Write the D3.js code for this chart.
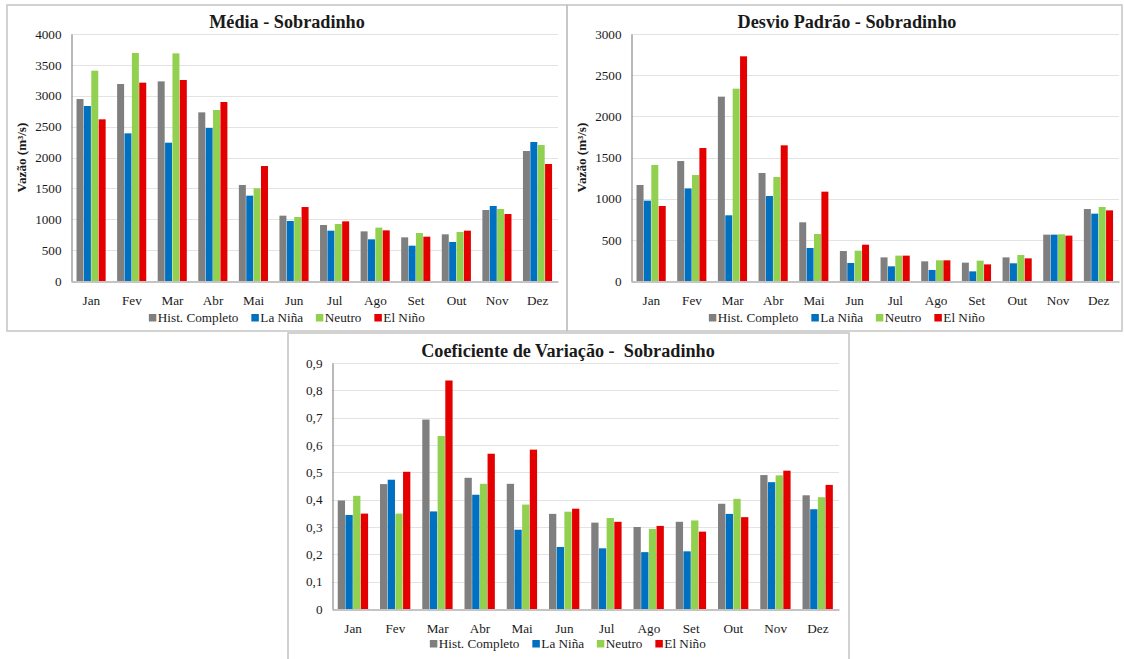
<!DOCTYPE html>
<html>
<head>
<meta charset="utf-8">
<script src="https://cdn.jsdelivr.net/npm/d3@7"></script>
<style>
  html, body { margin: 0; padding: 0; background: #fff; }
  svg { display: block; }
</style>
</head>
<body>
<svg id="chart" width="1124" height="659"></svg>
<script>
// Monthly streamflow statistics at Sobradinho, by ENSO phase
const months = ["Jan", "Fev", "Mar", "Abr", "Mai", "Jun", "Jul", "Ago", "Set", "Out", "Nov", "Dez"];
const seriesNames = ["Hist. Completo", "La Niña", "Neutro", "El Niño"];
const seriesColors = ["#7f7f7f", "#0070c0", "#92d050", "#e40000"];

// Média (m³/s)
const mediaHist   = [2947, 3190, 3233, 2731, 1555, 1058, 907, 804, 707, 756, 1150, 2105];
const mediaNina   = [2834, 2391, 2240, 2478, 1382,  972, 815, 675, 572, 632, 1215, 2251];
const mediaNeutro = [3406, 3692, 3687, 2769, 1501, 1036, 923, 864, 777, 794, 1166, 2202];
const mediaNino   = [2618, 3212, 3255, 2899, 1862, 1198, 966, 820, 718, 815, 1085, 1895];
const mediaTicks  = [0, 500, 1000, 1500, 2000, 2500, 3000, 3500, 4000];

// Desvio padrão (m³/s)
const desvioHist   = [1166, 1457, 2239, 1312,  713, 364, 287, 239, 223, 287, 563, 874];
const desvioNina   = [ 976, 1125,  798, 1032,  401, 219, 178, 134, 117, 215, 563, 818];
const desvioNeutro = [1409, 1287, 2336, 1263,  571, 368, 308, 251, 247, 316, 567, 899];
const desvioNino   = [ 911, 1615, 2729, 1648, 1085, 441, 308, 251, 202, 275, 551, 858];
const desvioTicks  = [0, 500, 1000, 1500, 2000, 2500, 3000];

// Coeficiente de variação
const cvHist   = [0.397, 0.457, 0.693, 0.480, 0.458, 0.348, 0.316, 0.300, 0.319, 0.385, 0.490, 0.416];
const cvNina   = [0.344, 0.473, 0.357, 0.418, 0.290, 0.227, 0.222, 0.208, 0.211, 0.348, 0.464, 0.365];
const cvNeutro = [0.414, 0.349, 0.633, 0.458, 0.382, 0.356, 0.333, 0.293, 0.324, 0.403, 0.489, 0.409];
const cvNino   = [0.349, 0.502, 0.836, 0.568, 0.583, 0.367, 0.319, 0.304, 0.283, 0.336, 0.506, 0.454];
const cvTicks  = [0, 0.1, 0.2, 0.3, 0.4, 0.5, 0.6, 0.7, 0.8, 0.9];

const ptBR = d3.formatLocale({ decimal: ",", thousands: ".", grouping: [3], currency: ["R$", ""] });
const fmtInt = ptBR.format("d");
const fmtDec = ptBR.format(".1f");

const FONT = "Liberation Serif";
const INK = "#1a1a1a";
const LABEL_SIZE = 13.2;

const svg = d3.select("#chart").attr("font-family", FONT);

// Panel frames
const frames = [
  { x0: 7, y0: 5, x1: 567, y1: 331 },
  { x0: 567, y0: 5, x1: 1122, y1: 331 },
  { x0: 288, y0: 333, x1: 849, y1: 661 }
];
frames.forEach(f => {
  svg.append("rect")
    .attr("x", f.x0).attr("y", f.y0)
    .attr("width", f.x1 - f.x0).attr("height", f.y1 - f.y0)
    .attr("fill", "none").attr("stroke", "#c4c4c4").attr("stroke-width", 1.5);
});

function drawPanel(cfg) {
  const g = svg.append("g");
  const series = cfg.values.map((vals, i) => ({ name: seriesNames[i], color: seriesColors[i], vals }));

  const x = d3.scaleBand().domain(months).range([cfg.left, cfg.right])
    .paddingInner(1.5 / 5.5).paddingOuter(0.75 / 5.5);
  const xs = d3.scaleBand().domain(d3.range(series.length)).range([0, x.bandwidth()]);
  const y = d3.scaleLinear().domain([0, d3.max(cfg.ticks)]).range([cfg.bottom, cfg.top]);

  // gridlines
  g.append("g").selectAll("line").data(cfg.ticks.filter(t => t > 0)).join("line")
    .attr("x1", cfg.left).attr("x2", cfg.right)
    .attr("y1", d => Math.round(y(d)) + 0.5).attr("y2", d => Math.round(y(d)) + 0.5)
    .attr("stroke", "#e3e3e3").attr("stroke-width", 1);

  // bars
  const groups = g.append("g").selectAll("g").data(months).join("g")
    .attr("transform", m => `translate(${x(m)},0)`);
  groups.selectAll("rect").data((m, mi) => series.map((s, si) => ({ si, v: s.vals[mi], color: s.color })))
    .join("rect")
    .attr("x", d => xs(d.si))
    .attr("width", xs.bandwidth() - 0.4)
    .attr("y", d => y(d.v))
    .attr("height", d => y(0) - y(d.v))
    .attr("fill", d => d.color);

  // y axis
  const yAxis = d3.axisLeft(y).tickValues(cfg.ticks).tickSize(0).tickPadding(10).tickFormat(cfg.fmt);
  const ya = g.append("g").attr("transform", `translate(${cfg.left + 0.5},0)`).call(yAxis)
    .attr("font-family", FONT).attr("font-size", LABEL_SIZE);
  ya.select(".domain").attr("stroke", "#8a8a8a").attr("stroke-width", 1.2);
  ya.selectAll("text").attr("fill", INK);

  // x axis
  const xAxis = d3.axisBottom(x).tickSize(0).tickPadding(14);
  const xa = g.append("g").attr("transform", `translate(0,${cfg.bottom + 0.5})`).call(xAxis)
    .attr("font-family", FONT).attr("font-size", LABEL_SIZE);
  xa.select(".domain").attr("stroke", "#8a8a8a").attr("stroke-width", 1.2);
  xa.selectAll("text").attr("fill", INK);

  // title
  g.append("text").attr("x", cfg.cx).attr("y", cfg.titleY)
    .attr("text-anchor", "middle")
    .attr("fill", INK)
    .attr("font-size", 18.2).attr("font-weight", "bold")
    .attr("xml:space", "preserve")
    .text(cfg.title);

  // y axis title
  if (cfg.yTitle) {
    g.append("text")
      .attr("transform", `translate(${cfg.yTitleX},${(cfg.top + cfg.bottom) / 2}) rotate(-90)`)
      .attr("text-anchor", "middle")
      .attr("fill", INK)
      .attr("font-size", LABEL_SIZE).attr("font-weight", "bold")
      .text(cfg.yTitle);
  }

  // legend, centred under the panel
  const leg = g.append("g").attr("transform", `translate(0,${cfg.legendY})`);
  const items = leg.selectAll("g").data(series).join("g");
  items.append("rect").attr("y", -8).attr("width", 7.5).attr("height", 7.5).attr("fill", d => d.color);
  items.append("text").attr("x", 9).attr("y", 0)
    .attr("fill", INK).attr("font-size", LABEL_SIZE)
    .text(d => d.name);
  const gap = 12.5;
  let offset = 0;
  const positions = [];
  items.each(function () {
    const w = this.getBBox().width;
    positions.push(offset);
    offset += w + gap;
  });
  const total = offset - gap;
  const start = cfg.cx - total / 2;
  items.attr("transform", (d, i) => `translate(${start + positions[i]},0)`);
}

drawPanel({
  title: "Média - Sobradinho",
  values: [mediaHist, mediaNina, mediaNeutro, mediaNino],
  ticks: mediaTicks, fmt: fmtInt,
  left: 71, right: 558, top: 34, bottom: 281,
  cx: 287, titleY: 28, legendY: 322,
  yTitle: "Vazão (m³/s)", yTitleX: 26
});

drawPanel({
  title: "Desvio Padrão - Sobradinho",
  values: [desvioHist, desvioNina, desvioNeutro, desvioNino],
  ticks: desvioTicks, fmt: fmtInt,
  left: 631, right: 1119, top: 34, bottom: 281,
  cx: 847, titleY: 28, legendY: 322,
  yTitle: "Vazão (m³/s)", yTitleX: 586
});

drawPanel({
  title: "Coeficiente de Variação -  Sobradinho",
  values: [cvHist, cvNina, cvNeutro, cvNino],
  ticks: cvTicks, fmt: d => d === 0 ? "0" : fmtDec(d),
  left: 332, right: 839, top: 363, bottom: 609,
  cx: 568, titleY: 357, legendY: 648
});
</script>
</body>
</html>
